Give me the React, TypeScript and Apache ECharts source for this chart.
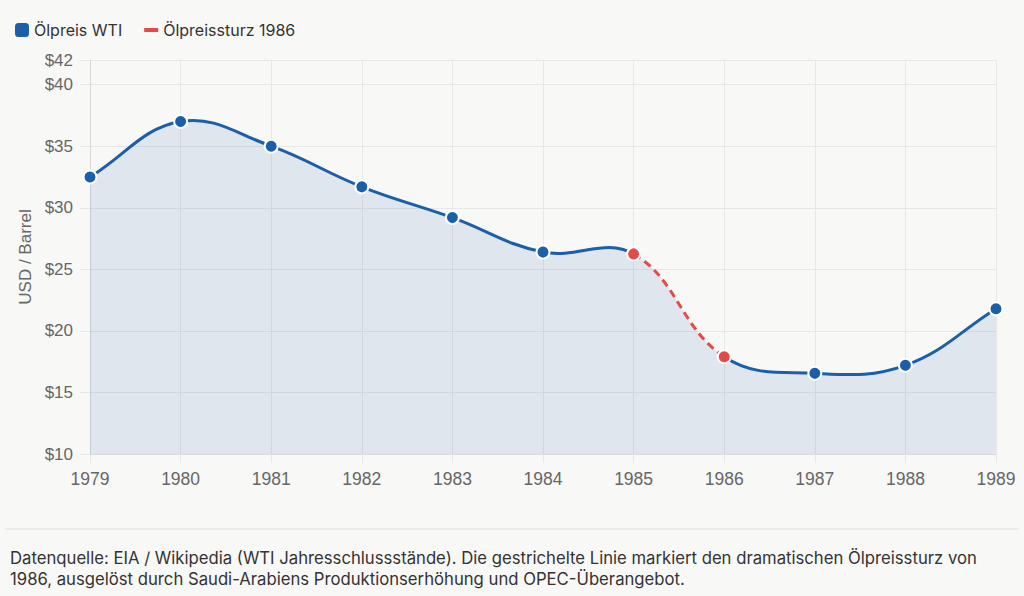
import React, { useEffect, useRef } from "react";
import * as echarts from "echarts";

const years = ["1979", "1980", "1981", "1982", "1983", "1984", "1985", "1986", "1987", "1988", "1989"];
const prices = [32.5, 37.0, 35.0, 31.7, 29.2, 26.4, 26.25, 17.9, 16.55, 17.2, 21.8];
const crashStart = 6; // index of 1985
const crashEnd = 7; // index of 1986
const yTicks = { min: 10, max: 42, interval: 5 };
const seriesNames = ["Ölpreis WTI", "Ölpreissturz 1986"];
const yAxisName = "USD / Barrel";
const footnote =
  "Datenquelle: EIA / Wikipedia (WTI Jahresschlussstände). Die gestrichelte Linie markiert den dramatischen Ölpreissturz von\n1986, ausgelöst durch Saudi-Arabiens Produktionserhöhung und OPEC-Überangebot.";

const BLUE = "#1b5ea9";
const RED = "#e34a4a";
const BG = "#f8f8f6";
const GRID = "#e7e7e5";
const AREA = "rgba(27,94,169,0.11)";
const TENSION = 0.4;

type Pt = [number, number];

// Chart.js-style spline control points, computed in pixel space
function controlPoints(pts: Pt[]) {
  return pts.map((cur, i) => {
    const prev = i > 0 ? pts[i - 1] : cur;
    const next = i < pts.length - 1 ? pts[i + 1] : cur;
    const d01 = Math.hypot(cur[0] - prev[0], cur[1] - prev[1]);
    const d12 = Math.hypot(next[0] - cur[0], next[1] - cur[1]);
    let s01 = d01 / (d01 + d12);
    let s12 = d12 / (d01 + d12);
    if (isNaN(s01)) s01 = 0;
    if (isNaN(s12)) s12 = 0;
    const fa = TENSION * s01;
    const fb = TENSION * s12;
    return {
      prev: [cur[0] - fa * (next[0] - prev[0]), cur[1] - fa * (next[1] - prev[1])] as Pt,
      next: [cur[0] + fb * (next[0] - prev[0]), cur[1] + fb * (next[1] - prev[1])] as Pt,
    };
  });
}

function segment(pts: Pt[], cps: ReturnType<typeof controlPoints>, i: number) {
  const a = cps[i].next;
  const b = cps[i + 1].prev;
  const p = pts[i + 1];
  return `C${a[0]},${a[1]} ${b[0]},${b[1]} ${p[0]},${p[1]}`;
}

export default function App() {
  const ref = useRef<HTMLDivElement>(null);

  useEffect(() => {
    document.body.style.margin = "0";
    document.body.style.background = BG;
    if (!ref.current) return;
    const chart = echarts.init(ref.current, undefined, { renderer: "svg" });

    const pointData = prices.map((v, i) => [i, v]);

    const getPixels = (api: any): Pt[] => prices.map((v, i) => api.coord([i, v]) as Pt);

    const renderBlue = (params: any, api: any) => {
      if (params.dataIndex !== 0) return null;
      const pts = getPixels(api);
      const cps = controlPoints(pts);
      const baseY = api.coord([0, yTicks.min])[1];
      let area = `M${pts[0][0]},${pts[0][1]}`;
      for (let i = 0; i < pts.length - 1; i++) area += segment(pts, cps, i);
      area += `L${pts[pts.length - 1][0]},${baseY}L${pts[0][0]},${baseY}Z`;
      let line1 = `M${pts[0][0]},${pts[0][1]}`;
      for (let i = 0; i < crashStart; i++) line1 += segment(pts, cps, i);
      let line2 = `M${pts[crashEnd][0]},${pts[crashEnd][1]}`;
      for (let i = crashEnd; i < pts.length - 1; i++) line2 += segment(pts, cps, i);
      return {
        type: "group",
        children: [
          { type: "path", shape: { pathData: area }, style: { fill: AREA, stroke: null } },
          {
            type: "path",
            shape: { pathData: line1 + line2 },
            style: { fill: null, stroke: BLUE, lineWidth: 3, lineJoin: "round", lineCap: "round" },
          },
        ],
      };
    };

    const renderRed = (params: any, api: any) => {
      if (params.dataIndex !== 0) return null;
      const pts = getPixels(api);
      const cps = controlPoints(pts);
      const d = `M${pts[crashStart][0]},${pts[crashStart][1]}` + segment(pts, cps, crashStart);
      return {
        type: "path",
        shape: { pathData: d },
        style: { fill: null, stroke: RED, lineWidth: 3, lineDash: [8, 5] },
      };
    };

    chart.setOption({
      animation: false,
      backgroundColor: BG,
      textStyle: { fontFamily: "Liberation Sans, Arial, sans-serif" },
      legend: {
        left: 10,
        top: 17,
        itemWidth: 14,
        itemHeight: 14,
        itemGap: 22,
        textStyle: { fontFamily: "Inter, sans-serif", fontSize: 16, color: "#333" },
        data: [
          { name: seriesNames[0], icon: "roundRect", itemStyle: { color: BLUE } },
          {
            name: seriesNames[1],
            icon: "path://M0,0 M14,14 M0,5 L14,5 L14,9 L0,9 Z",
            itemStyle: { color: RED },
          },
        ],
      },
      grid: { left: 90, right: 28, top: 60, bottom: 142, containLabel: false },
      xAxis: {
        type: "category",
        data: years,
        boundaryGap: false,
        axisLine: { lineStyle: { color: "#d8d8d8" } },
        axisTick: { show: true, length: 9, alignWithLabel: true, lineStyle: { color: GRID } },
        axisLabel: { color: "#666", fontSize: 17.5, margin: 16 },
        splitLine: { show: true, lineStyle: { color: GRID } },
      },
      yAxis: {
        type: "value",
        min: yTicks.min,
        max: yTicks.max,
        interval: yTicks.interval,
        name: yAxisName,
        nameLocation: "middle",
        nameGap: 56,
        nameTextStyle: { color: "#666", fontSize: 17 },
        axisLine: { show: true, lineStyle: { color: "#d8d8d8" } },
        axisTick: { show: true, length: 10, lineStyle: { color: GRID } },
        axisLabel: { color: "#666", fontSize: 17, margin: 17, formatter: (v: number) => "$" + v },
        splitLine: { show: true, lineStyle: { color: GRID } },
      },
      series: [
        {
          name: seriesNames[0],
          type: "custom",
          data: pointData,
          color: BLUE,
          renderItem: renderBlue,
          z: 2,
          silent: true,
        },
        {
          name: seriesNames[1],
          type: "custom",
          data: pointData,
          color: RED,
          renderItem: renderRed,
          z: 3,
          silent: true,
        },
        {
          name: seriesNames[0],
          type: "scatter",
          data: prices.map((v, i) => (i === crashStart || i === crashEnd ? "-" : v)),
          symbol: "circle",
          symbolSize: 13,
          itemStyle: { color: BLUE, borderColor: "#fff", borderWidth: 2, opacity: 1 },
          z: 4,
        },
        {
          name: seriesNames[1],
          type: "scatter",
          data: prices.map((v, i) => (i === crashStart || i === crashEnd ? v : "-")),
          symbol: "circle",
          symbolSize: 13,
          itemStyle: { color: RED, borderColor: "#fff", borderWidth: 2, opacity: 1 },
          z: 4,
        },
      ],
      graphic: [
        {
          type: "line",
          shape: { x1: 5, y1: 529, x2: 1019, y2: 529 },
          style: { stroke: "#dedede", lineWidth: 1 },
        },
        {
          type: "text",
          left: 10,
          top: 547,
          style: {
            text: footnote,
            fill: "#333",
            font: "16.7px Inter, sans-serif",
            lineHeight: 21,
          },
        },
      ],
    });

    return () => chart.dispose();
  }, []);

  return <div ref={ref} style={{ width: 1024, height: 596 }} />;
}
